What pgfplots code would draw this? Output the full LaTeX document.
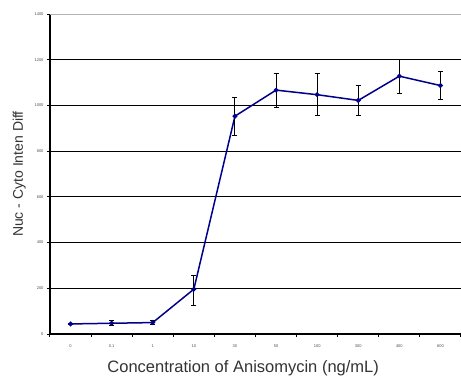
\documentclass[border=0pt]{standalone}
\usepackage{pgfplots}
\pgfplotsset{compat=1.18}
\usepackage{fontspec}
\setmainfont{Liberation Sans}
\definecolor{linecol}{RGB}{0,0,140}
\begin{document}
\begin{tikzpicture}
\path[use as bounding box] (-50pt,-42pt) rectangle (411pt,334pt);
\begin{axis}[
  scale only axis,
  width=411pt, height=320pt,
  xmin=-0.5, xmax=9.5,
  ymin=0, ymax=1400,
  axis x line*=bottom, axis y line*=left,
  axis line style={black, line width=1.4pt},
  xtick={0,...,9},
  xticklabels={0,0.1,1,10,30,50,100,300,400,600},
  minor xtick={-0.5,0.5,...,9.5},
  ytick={0,200,...,1200},
  extra y ticks={1400},
  extra y tick style={grid style={gray!60, line width=1pt}},
  ymajorgrids,
  grid style={black, line width=0.9pt},
  major x tick style={draw=none},
  tick align=outside,
  tick style={black, line width=1pt},
  major tick length=3pt, minor tick length=3pt,
  ticklabel style={font=\fontsize{4}{5}\selectfont, text=black!70},
  /pgf/number format/assume math mode=true,
  /pgf/number format/set thousands separator={},
  xticklabel style={yshift=-4pt},
  xlabel={Concentration of Anisomycin (ng/mL)},
  ylabel={Nuc - Cyto Inten Diff},
  xlabel style={font=\fontsize{16.5}{18}\selectfont, text=black!80, at={(axis description cs:0.47,0)}, yshift=-23pt},
  ylabel style={font=\fontsize{14}{16}\selectfont, text=black!80, yshift=-4pt},
  clip=false,
]
\addplot[linecol, line width=1.5pt, mark=*, mark size=1.6pt,
  error bars/.cd, y dir=both, y explicit,
  error bar style={black, line width=1pt},
  error mark options={black, rotate=90, mark size=2.5pt, line width=1pt}]
coordinates {
(0,44) +- (0,3)
(1,47) +- (0,10)
(2,50) +- (0,8)
(3,196) += (0,58) -= (0,70)
(4,953) += (0,83) -= (0,85)
(5,1067) += (0,73) -= (0,77)
(6,1047) += (0,93) -= (0,91)
(7,1022) += (0,67) -= (0,66)
(8,1128) += (0,71) -= (0,77)
(9,1087) += (0,63) -= (0,61)
};
\end{axis}
\end{tikzpicture}
\end{document}
